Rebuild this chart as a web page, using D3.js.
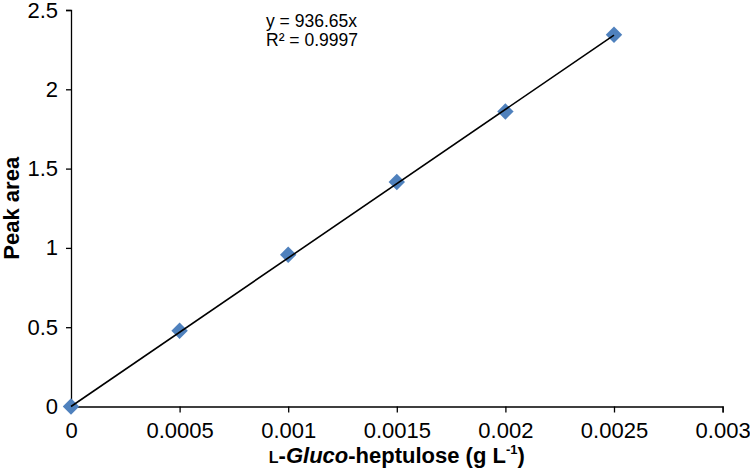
<!DOCTYPE html>
<html>
<head>
<meta charset="utf-8">
<script src="https://cdn.jsdelivr.net/npm/d3@7"></script>
<style>
  html, body { margin: 0; padding: 0; background: #fff; }
  svg { display: block; font-family: "Liberation Sans", Arial, sans-serif; }
</style>
</head>
<body>
<svg id="chart" width="750" height="476"></svg>
<script>
// Data
const concentrations = [0, 0.0005, 0.001, 0.0015, 0.002, 0.0025];
const peakAreas = [0, 0.478, 0.957, 1.415, 1.86, 2.344];
const slope = 936.65;
const xTicks = [0, 0.0005, 0.001, 0.0015, 0.002, 0.0025, 0.003];
const xTickLabels = ["0", "0.0005", "0.001", "0.0015", "0.002", "0.0025", "0.003"];
const yTicks = [0, 0.5, 1, 1.5, 2, 2.5];
const yTickLabels = ["0", "0.5", "1", "1.5", "2", "2.5"];
const equationLines = ["y = 936.65x", "R² = 0.9997"];

const svg = d3.select("#chart");
const x = d3.scaleLinear().domain([0, 0.003]).range([71, 722.6]);
const y = d3.scaleLinear().domain([0, 2.5]).range([406.5, 10]);

// Axes
const xAxis = d3.axisBottom(x).tickValues(xTicks)
  .tickFormat((d, i) => xTickLabels[i]).tickSizeOuter(0).tickSize(6).tickPadding(8);
const yAxis = d3.axisLeft(y).tickValues(yTicks)
  .tickFormat((d, i) => yTickLabels[i]).tickSizeOuter(0).tickSize(5).tickPadding(8);

const gx = svg.append("g").attr("transform", `translate(0,${y(0)})`).call(xAxis);
const gy = svg.append("g").attr("transform", `translate(${x(0)},0)`).call(yAxis);
[gx, gy].forEach(g => {
  g.selectAll("path.domain").attr("stroke", "#000").attr("stroke-width", 1.3);
  g.selectAll(".tick line").attr("stroke", "#000").attr("stroke-width", 1.3);
  g.selectAll(".tick text").attr("fill", "#000").attr("font-size", 22)
    .attr("font-family", "Liberation Sans, Arial, sans-serif");
});
gx.selectAll(".tick text").attr("dy", "0.72em").attr("y", 16);

// Markers
svg.append("g").selectAll("path.pt")
  .data(concentrations.map((c, i) => [c, peakAreas[i]]))
  .join("path")
  .attr("class", "pt")
  .attr("transform", d => `translate(${x(d[0])},${y(d[1])}) rotate(45)`)
  .attr("d", d3.symbol().type(d3.symbolSquare).size(135))
  .attr("fill", "#4F81BD");

// Trendline
const xMax = d3.max(concentrations);
svg.append("line")
  .attr("x1", x(0)).attr("y1", y(0))
  .attr("x2", x(xMax)).attr("y2", y(slope * xMax))
  .attr("stroke", "#000").attr("stroke-width", 1.6);

// Equation
const eq = svg.append("text").attr("x", 266).attr("y", 27)
  .attr("font-size", 17.5).attr("fill", "#000");
equationLines.forEach((t, i) => {
  eq.append("tspan").attr("x", 266).attr("y", 27 + i * 18.5).text(t);
});

// Y title
svg.append("text")
  .attr("transform", `translate(19,${(y(0) + y(2.5)) / 2}) rotate(-90)`)
  .attr("text-anchor", "middle")
  .attr("font-size", 22).attr("font-weight", "bold").attr("fill", "#000")
  .text("Peak area");

// X title
const xt = svg.append("text")
  .attr("x", (x(0) + x(0.003)) / 2).attr("y", 463)
  .attr("text-anchor", "middle")
  .attr("font-size", 22).attr("font-weight", "bold").attr("fill", "#000");
xt.append("tspan").attr("font-size", 16).text("L");
xt.append("tspan").text("-");
xt.append("tspan").attr("font-style", "italic").text("Gluco");
xt.append("tspan").text("-heptulose (g L");
xt.append("tspan").attr("font-size", 13).attr("dy", -9).text("-1");
xt.append("tspan").attr("dy", 9).text(")");
</script>
</body>
</html>
